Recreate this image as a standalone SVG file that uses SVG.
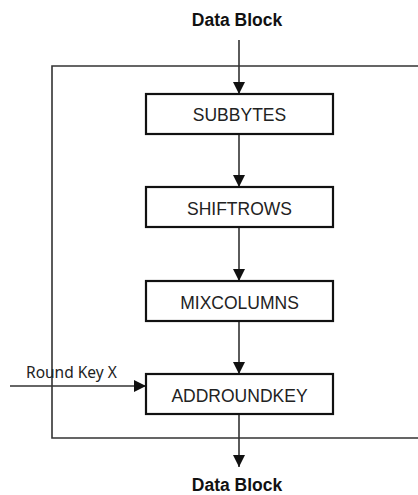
<svg xmlns="http://www.w3.org/2000/svg" width="418" height="495" viewBox="0 0 418 495">
<style>
.box{fill:#fff;stroke:#111;stroke-width:2.2}
.lbl{font-family:"Liberation Sans",Arial,sans-serif;font-size:17.5px;fill:#222;text-anchor:middle}
.title{font-family:"Liberation Sans",Arial,sans-serif;font-size:17.5px;font-weight:bold;fill:#111;text-anchor:middle}
.ln{fill:none;stroke:#333;stroke-width:1.6}
.key{font-family:"Noto Sans","Open Sans",sans-serif;font-size:15.5px;fill:#222}
</style>
<defs>
<marker id="ah" viewBox="0 0 12 12" refX="12" refY="6" markerWidth="12" markerHeight="12" markerUnits="userSpaceOnUse" orient="auto">
<path d="M0,0 L12,6 L0,12 Z" fill="#111"/>
</marker>
</defs>
<rect width="418" height="495" fill="#fff"/>
<g id="connectors">
<polyline class="ln" points="418,66 52,66 52,438 418,438"/>
<line class="ln" x1="239" y1="40" x2="239" y2="94" marker-end="url(#ah)"/>
<line class="ln" x1="239" y1="134" x2="239" y2="187" marker-end="url(#ah)"/>
<line class="ln" x1="239" y1="227" x2="239" y2="281" marker-end="url(#ah)"/>
<line class="ln" x1="239" y1="321" x2="239" y2="374" marker-end="url(#ah)"/>
<line class="ln" x1="10" y1="386" x2="146" y2="386" marker-end="url(#ah)"/>
<line class="ln" x1="239" y1="414" x2="239" y2="467" marker-end="url(#ah)"/>
</g>
<g id="data-in"><text class="title" x="237" y="26">Data Block</text></g>
<g id="subbytes"><rect class="box" x="146" y="94" width="187" height="40"/><text class="lbl" x="239.5" y="121">SUBBYTES</text></g>
<g id="shiftrows"><rect class="box" x="146" y="187" width="187" height="40"/><text class="lbl" x="239.5" y="215">SHIFTROWS</text></g>
<g id="mixcolumns"><rect class="box" x="146" y="281" width="187" height="40"/><text class="lbl" x="239.5" y="309">MIXCOLUMNS</text></g>
<g id="addroundkey"><rect class="box" x="146" y="374" width="187" height="40"/><text class="lbl" x="239.5" y="402">ADDROUNDKEY</text></g>
<g id="round-key"><text class="key" x="26" y="378">Round Key X</text></g>
<g id="data-out"><text class="title" x="237" y="491">Data Block</text></g>
</svg>
